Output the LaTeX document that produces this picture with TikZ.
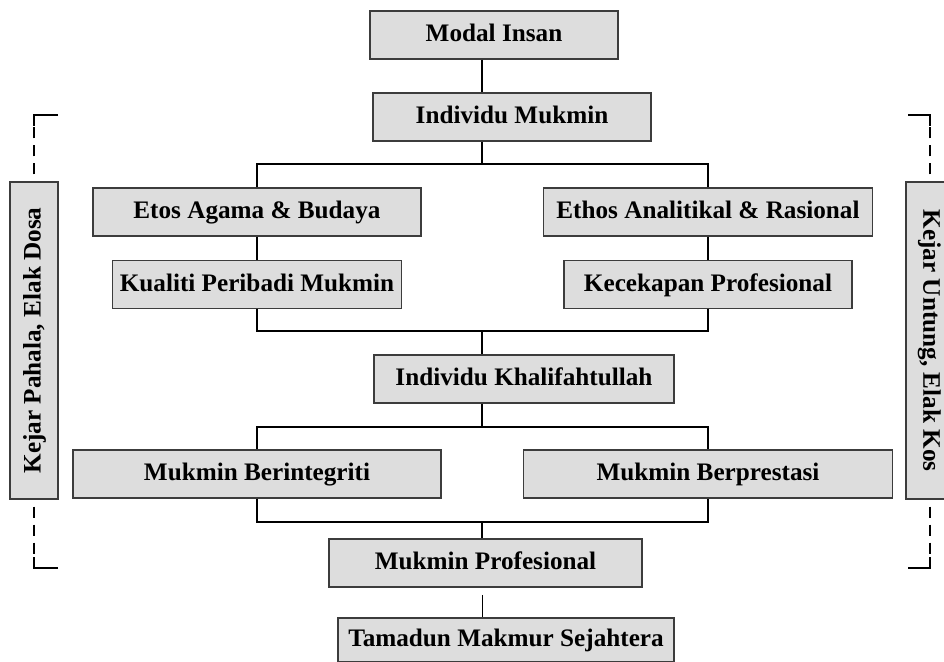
\documentclass[tikz,border=0pt]{standalone}
\usepackage{fontspec}
\setmainfont{Liberation Serif}
\usetikzlibrary{positioning}
\definecolor{boxgray}{RGB}{221,221,221}
\definecolor{edgegray}{RGB}{60,60,60}

\begin{document}
\begin{tikzpicture}[
    x=0.5pt, y=-0.5pt,
    box/.style={draw=edgegray, fill=boxgray, line width=0.6pt, inner sep=0pt, minimum height=24pt, text height=0.66em, text depth=0pt, align=center, font=\fontsize{12.6}{15}\selectfont\bfseries},
    sidebox/.style={box, minimum height=24pt},
    link/.style={line width=1.2pt, black},
    thinlink/.style={line width=0.5pt, black},
    bracket/.style={line width=1.3pt, black},
    dashline/.style={bracket, dash pattern=on 5.5pt off 3.5pt, dash phase=5.5pt}
]
\useasboundingbox (0,0) rectangle (944,662);

% Top: Modal Insan
\node[box, minimum width=124pt] (modal) at (494,35) {Modal Insan};
\node[box, minimum width=139pt] (imukmin) at (512,117) {Individu Mukmin};

% Two branches
\node[box, minimum width=164pt] (etos) at (257,212) {Etos Agama \& Budaya};
\node[box, minimum width=164.5pt] (ethos) at (708,212) {Ethos Analitikal \& Rasional};
\node[box, minimum width=144.5pt] (kualiti) at (257,284.5) {Kualiti Peribadi Mukmin};
\node[box, minimum width=144pt] (kecekapan) at (708,284.5) {Kecekapan Profesional};

% Middle
\node[box, minimum width=150pt] (khalifah) at (524,379) {Individu Khalifahtullah};
\node[box, minimum width=184pt] (integriti) at (257,474) {Mukmin Berintegriti};
\node[box, minimum width=184.5pt] (prestasi) at (708,474) {Mukmin Berprestasi};

% Bottom
\node[box, minimum width=156.5pt] (mprof) at (485.5,563) {Mukmin Profesional};
\node[box, minimum width=168pt, minimum height=22pt] (tamadun) at (506,640) {Tamadun Makmur Sejahtera};

% Side labels
\node[sidebox, rotate=90, minimum width=158.5pt] (pahala) at (34,340.5) {Kejar Pahala, Elak Dosa};
\node[sidebox, rotate=-90, minimum width=158.5pt] (untung) at (930,340.5) {Kejar Untung, Elak Kos};

% Trunk and buses
\coordinate (trunk) at (482,0);
\coordinate (bus1) at (482,164);
\coordinate (bus2) at (482,331);
\coordinate (bus3) at (482,427);
\coordinate (bus4) at (482,522);
\coordinate (gap) at (482,595);

\draw[link] (modal.south -| trunk) -- (imukmin.north -| trunk);
\draw[link] (imukmin.south -| bus1) -- (bus1);
\draw[link] (etos.north) |- (bus1) -| (ethos.north);
\draw[link] (etos) -- (kualiti);
\draw[link] (ethos) -- (kecekapan);
\draw[link] (kualiti.south) |- (bus2) -| (kecekapan.south);
\draw[link] (bus2) -- (khalifah.north -| bus2);
\draw[link] (khalifah.south -| bus3) -- (bus3);
\draw[link] (integriti.north) |- (bus3) -| (prestasi.north);
\draw[link] (integriti.south) |- (bus4) -| (prestasi.south);
\draw[link] (bus4) -- (mprof.north -| bus4);
\draw[thinlink] (gap) -- (tamadun.north -| gap);

% Dashed brackets
\coordinate (ptop) at (34,115);
\coordinate (pbot) at (34,568);
\coordinate (utop) at (930,115);
\coordinate (ubot) at (930,568);

\draw[dashline] (pahala.east) -- (ptop);
\draw[dashline] (pahala.west) -- (pbot);
\draw[bracket] (58,115) -- (ptop) -- ++(0,11);
\draw[bracket] (58,568) -- (pbot) -- ++(0,-11);

\draw[dashline] (untung.west) -- (utop);
\draw[dashline] (untung.east) -- (ubot);
\draw[bracket] (908,115) -- (utop) -- ++(0,11);
\draw[bracket] (908,568) -- (ubot) -- ++(0,-11);

\end{tikzpicture}
\end{document}
